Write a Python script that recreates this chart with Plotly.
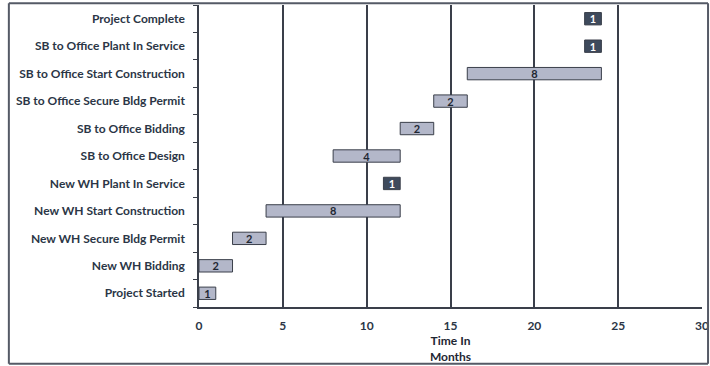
import plotly.graph_objects as go

tasks = [
    "Project Started",
    "New WH Bidding",
    "New WH Secure Bldg Permit",
    "New WH Start Construction",
    "New WH Plant In Service",
    "SB to Office Design",
    "SB to Office Bidding",
    "SB to Office Secure Bldg Permit",
    "SB to Office Start Construction",
    "SB to Office Plant In Service",
    "Project Complete",
]
start_month = [0, 0, 2, 4, 11, 8, 12, 14, 16, 23, 23]
duration = [1, 2, 2, 8, 1, 4, 2, 2, 8, 1, 1]
milestone = [False, False, False, False, True, False, False, False, False, True, True]
x_ticks = [0, 5, 10, 15, 20, 25, 30]

INK = "#2b3646"
FRAME = "#555a66"
bar_colors = ["#3e4a5c" if m else "#b3b7c9" for m in milestone]
text_colors = ["#ffffff" if m else "#1f2733" for m in milestone]

fig = go.Figure()
fig.add_trace(go.Bar(
    y=tasks,
    x=duration,
    base=start_month,
    orientation="h",
    width=0.45,
    marker=dict(color=bar_colors, line=dict(color="#3a3f4a", width=1)),
    text=[str(d) for d in duration],
    textposition="inside",
    insidetextanchor="middle",
    textangle=0,
    constraintext="none",
    textfont=dict(family="Lato", size=11, color=text_colors, weight="bold"),
    showlegend=False,
    hoverinfo="skip",
))

# outer frame drawn as four lines in paper coordinates
fx0, fx1, fy0, fy1 = -0.378, 1.012, -0.188, 1.006
frame = [
    dict(x0=fx0, x1=fx1, y0=fy1, y1=fy1),
    dict(x0=fx0, x1=fx1, y0=fy0, y1=fy0),
    dict(x0=fx0, x1=fx0, y0=fy0, y1=fy1),
    dict(x0=fx1, x1=fx1, y0=fy0, y1=fy1),
]
shapes = [dict(type="line", xref="paper", yref="paper", line=dict(color=FRAME, width=2), **f)
          for f in frame]

fig.update_layout(
    width=710,
    height=366,
    margin=dict(l=199, r=8, t=5, b=59, autoexpand=False),
    paper_bgcolor="white",
    plot_bgcolor="white",
    font=dict(family="Lato", color=INK),
    bargap=0.5,
    uniformtext=dict(minsize=10, mode="show"),
    xaxis=dict(
        range=[0, 30],
        tickvals=x_ticks,
        ticktext=[str(t) for t in x_ticks],
        showgrid=True,
        gridcolor="#3a3f4a",
        gridwidth=1.5,
        zeroline=False,
        showline=True,
        linecolor="#3a3f4a",
        linewidth=1.5,
        ticks="",
        ticklabelstandoff=7,
        automargin=False,
        tickfont=dict(family="Lato", size=12, color=INK, weight="bold"),
        title=dict(
            text="Time In<br>Months",
            font=dict(family="Lato", size=12, color="#1f2733", weight="bold"),
            standoff=4,
        ),
        fixedrange=True,
    ),
    yaxis=dict(
        categoryorder="array",
        categoryarray=tasks,
        showgrid=False,
        zeroline=False,
        showline=True,
        linecolor="#3a3f4a",
        linewidth=1.5,
        ticks="outside",
        tickson="boundaries",
        ticklen=4,
        tickcolor="#3a3f4a",
        automargin=False,
        tickfont=dict(family="Lato", size=12, color=INK, weight="bold"),
        ticklabelstandoff=10,
        fixedrange=True,
    ),
    shapes=shapes,
)

fig.write_html(
    "out.html",
    config={"displayModeBar": False},
    post_script="document.body.style.margin='0';document.body.style.overflow='hidden';",
)
